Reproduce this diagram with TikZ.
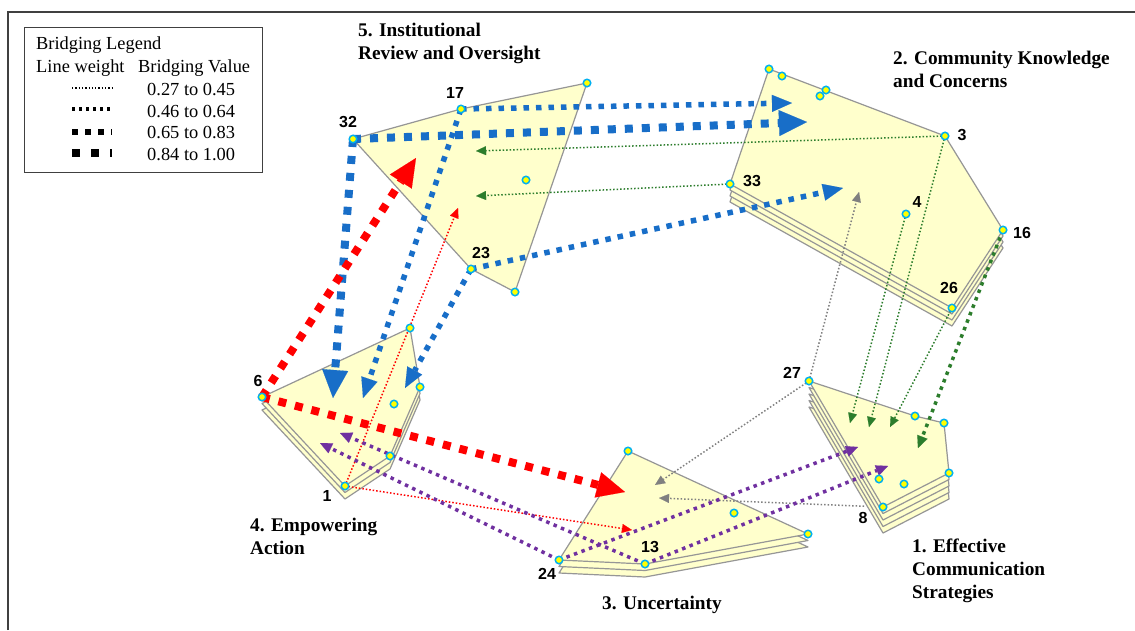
\documentclass[tikz,border=0pt]{standalone}
\usepackage{fontspec}
\setmainfont{Liberation Serif}
\newfontfamily\labfont{Liberation Sans}
\usetikzlibrary{arrows.meta}
\definecolor{eblue}{RGB}{24,110,200}
\definecolor{ered}{RGB}{255,0,0}
\definecolor{egreen}{RGB}{44,125,44}
\definecolor{epurple}{RGB}{112,48,160}
\definecolor{egrey}{RGB}{128,128,128}
\definecolor{cfill}{RGB}{255,255,204}
\definecolor{cedge}{RGB}{150,150,150}
\definecolor{mring}{RGB}{0,176,240}
\definecolor{myellow}{RGB}{255,255,0}
\newcommand\clusterpoly[3]{%
  \foreach \kk in {#1,...,1}{\path[clusfill, shift={(0,\kk*#2)}] #3 -- cycle;}
  \path[clusfill] #3 -- cycle;}
\begin{document}
\begin{tikzpicture}[x=1pt,y=-1pt,
  clusfill/.style={draw=cedge, fill=cfill, line width=1.2pt, line join=round},
  marker/.style={circle, fill=myellow, draw=mring, line width=1.5pt, minimum size=7.5pt, inner sep=0pt},
  numlab/.style={font=\labfont\bfseries\fontsize{16}{16}\selectfont, inner sep=0pt},
  title/.style={font=\bfseries\fontsize{19.3}{23}\selectfont, inner sep=0pt, align=left, anchor=west},
  legtext/.style={font=\fontsize{18.4}{20}\selectfont, inner sep=0pt, anchor=west},
  eone/.style={line width=1.5pt, dash pattern=on 1.5pt off 2pt, -{Triangle[length=10pt,width=9pt,line width=0.1pt]}},
  etwo/.style={line width=3.5pt, dash pattern=on 3.5pt off 4.5pt, -{Triangle[length=12pt,width=11pt,line width=0.1pt]}},
  ethree/.style={line width=5.5pt, dash pattern=on 5.5pt off 7pt, -{Triangle[length=20pt,width=17pt,line width=0.1pt]}},
  efour/.style={line width=8pt, dash pattern=on 8pt off 9pt, -{Triangle[length=28pt,width=26pt,line width=0.1pt]}}
]
\useasboundingbox (0,0) rectangle (1135,630);
\fill[white] (0,0) rectangle (1135,630);
% frame
\draw[line width=1.5pt, black!75] (8,630) -- (8,12) -- (1135,12);

% legend
\draw[line width=0.9pt, black!75] (24,27) rectangle (262,172);
\node[legtext] (lg1) at (36,45) {Bridging Legend};
\node[legtext] (lg2) at (36,68) {Line weight};
\node[legtext] (lg3) at (138,68) {Bridging Value};
\node[legtext] (lg4) at (147,90) {0.27 to 0.45};
\node[legtext] (lg5) at (147,112) {0.46 to 0.64};
\node[legtext] (lg6) at (147,133) {0.65 to 0.83};
\node[legtext] (lg7) at (147,155) {0.84 to 1.00};
\draw[black, line width=1.3pt, dash pattern=on 1.3pt off 2pt] (72,88) -- (112,88);
\draw[black, line width=3.3pt, dash pattern=on 3.3pt off 3.7pt] (72,109) -- (112,109);
\draw[black, line width=5.5pt, dash pattern=on 5.5pt off 7.5pt] (72,132) -- (112,132);
\draw[black, line width=8pt, dash pattern=on 8pt off 11pt] (72,153) -- (112,153);

% clusters
\path[clusfill] (353,139) -- (461,109) -- (587,83) -- (515,292) -- (471,269) -- cycle;
\clusterpoly{3}{6}{(769,69) -- (945,136) -- (1003,230) -- (952,308) -- (730,184)}
\clusterpoly{2}{6.5}{(262,397) -- (410,328) -- (420,387) -- (390,456) -- (345,486)}
\clusterpoly{2}{6.5}{(628,451) -- (808,534) -- (645,564) -- (559,560)}
\clusterpoly{4}{6.5}{(809,381) -- (915,416) -- (944,423) -- (949,473) -- (883,507)}

% point coordinates
\coordinate (p32) at (353,139);
\coordinate (p17) at (461,109);
\coordinate (c5a) at (587,83);
\coordinate (c5b) at (515,292);
\coordinate (p23) at (471,269);
\coordinate (c5c) at (526,180);
\coordinate (c2a) at (769,69);
\coordinate (c2b) at (782,76);
\coordinate (c2c) at (826,90);
\coordinate (c2d) at (820,96);
\coordinate (p3) at (945,136);
\coordinate (p16) at (1003,230);
\coordinate (p26) at (952,308);
\coordinate (p33) at (730,184);
\coordinate (p4) at (906,214);
\coordinate (p6) at (262,397);
\coordinate (c4a) at (410,328);
\coordinate (c4b) at (420,387);
\coordinate (c4c) at (390,456);
\coordinate (p1) at (345,486);
\coordinate (c4d) at (394,404);
\coordinate (c3a) at (628,451);
\coordinate (c3b) at (808,534);
\coordinate (p13) at (645,564);
\coordinate (p24) at (559,560);
\coordinate (c3c) at (734,513);
\coordinate (p27) at (809,381);
\coordinate (c1a) at (915,416);
\coordinate (c1b) at (944,423);
\coordinate (c1c) at (949,473);
\coordinate (p8) at (883,507);
\coordinate (c1d) at (879,479);
\coordinate (c1e) at (904,484);

% arrow tip coordinates
\coordinate (tB1) at (792,103);
\coordinate (tB2) at (807,122);
\coordinate (tB3) at (843,188);
\coordinate (tB4) at (333,398);
\coordinate (tB5) at (363,398);
\coordinate (tB6) at (405,388);
\coordinate (tR1) at (416,158);
\coordinate (tR2) at (625,492);
\coordinate (tR3) at (458,208);
\coordinate (tR4) at (632,530);
\coordinate (tG1) at (476,151);
\coordinate (tG2) at (476,196);
\coordinate (tG3) at (850,423);
\coordinate (tG4) at (869,427);
\coordinate (tG5) at (890,427);
\coordinate (tG6) at (918,448);
\coordinate (tK1) at (859,192);
\coordinate (tK2) at (655,485);
\coordinate (tK3) at (659,498);
\coordinate (tP1) at (858,447);
\coordinate (tP2) at (888,466);
\coordinate (tP3) at (320,443);
\coordinate (tP4) at (340,433);

% edges: thin first
\draw[eone, egreen] (p3) -- (tG1);
\draw[eone, egreen] (p33) -- (tG2);
\draw[eone, egreen] (p4) -- (tG3);
\draw[eone, egreen] (p3) -- (tG4);
\draw[eone, egreen] (p26) -- (tG5);
\draw[eone, egrey] (p27) -- (tK1);
\draw[eone, egrey] (p27) -- (tK2);
\draw[eone, egrey, shorten <=19pt] (p8) -- (tK3);
\draw[eone, ered] (p1) -- (tR3);
\draw[eone, ered] (p1) -- (tR4);
\draw[etwo, egreen] (p16) -- (tG6);
\draw[etwo, epurple] (p24) -- (tP1);
\draw[etwo, epurple] (p13) -- (tP2);
\draw[etwo, epurple] (p24) -- (tP3);
\draw[etwo, epurple] (p13) -- (tP4);
\draw[ethree, eblue] (p17) -- (tB1);
\draw[ethree, eblue] (p23) -- (tB3);
\draw[ethree, eblue] (p17) -- (tB5);
\draw[ethree, eblue] (p23) -- (tB6);
\draw[efour, eblue] (p32) -- (tB2);
\draw[efour, eblue] (p32) -- (tB4);
\draw[efour, ered] (p6) -- (tR1);
\draw[efour, ered] (p6) -- (tR2);

% markers
\foreach \p in {p32,p17,c5a,c5b,p23,c5c,c2a,c2b,c2c,c2d,p3,p16,p26,p33,p4,p6,c4a,c4b,c4c,p1,c4d,c3a,c3b,p13,p24,c3c,p27,c1a,c1b,c1c,p8,c1d,c1e}
  \node[marker] (m\p) at (\p) {};

% number labels
\node[numlab] (l32) at (348,122) {32};
\node[numlab] (l17) at (455,93) {17};
\node[numlab] (l23) at (481,253) {23};
\node[numlab] (l3) at (962,135) {3};
\node[numlab] (l33) at (752,181) {33};
\node[numlab] (l4) at (917,202) {4};
\node[numlab] (l16) at (1022,233) {16};
\node[numlab] (l26) at (949,288) {26};
\node[numlab] (l6) at (258,381) {6};
\node[numlab] (l1) at (327,496) {1};
\node[numlab] (l13) at (650,547) {13};
\node[numlab] (l24) at (547,574) {24};
\node[numlab] (l27) at (792,373) {27};
\node[numlab] (l8) at (863,518) {8};

% titles
\node[title] (t5) at (358,43.5) {5. Institutional\\Review and Oversight};
\node[title] (t2) at (893,69.5) {2. Community Knowledge\\and Concerns};
\node[title] (t4) at (250,536.5) {4. Empowering\\Action};
\node[title] (t1) at (912,571) {1. Effective\\Communication\\Strategies};
\node[title, anchor=center] (t3) at (662,605) {3. Uncertainty};
\end{tikzpicture}
\end{document}
